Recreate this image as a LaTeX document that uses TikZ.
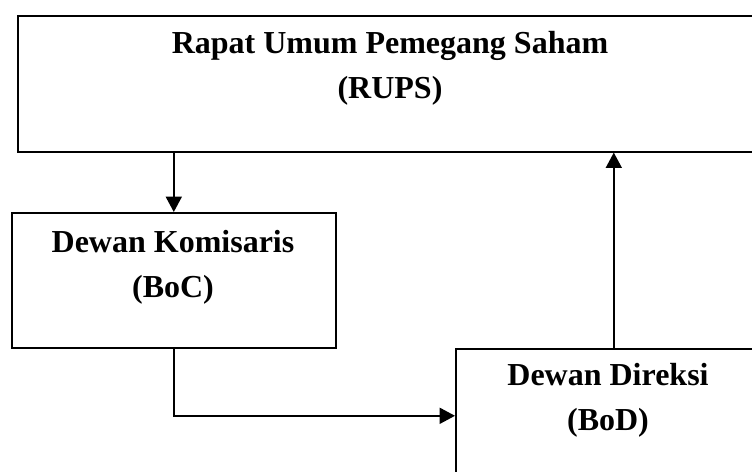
\documentclass[tikz,border=0pt]{standalone}
\usepackage{fontspec}
\setmainfont{Liberation Serif}
\usetikzlibrary{arrows.meta, positioning}

\begin{document}
\begin{tikzpicture}[
    x=0.75pt, y=-0.75pt,
    box style/.style={
        draw,
        line width=1.2pt,
        rectangle,
        anchor=north west,
        inner sep=0pt
    },
    text style/.style={
        align=center,
        anchor=base,
        inner sep=0pt,
        font=\fontsize{24}{33.75}\selectfont\bfseries
    },
    arrow style/.style={
        line width=1.2pt,
        -{Triangle[length=11.5pt, width=12pt]}
    }
]

% Frame
\useasboundingbox (0,0) rectangle (752,471);
\clip (0,0) rectangle (752,471);

% Boxes
\node[box style, minimum width=559.5pt, minimum height=102pt] (rups) at (17,15) {};
\node[box style, minimum width=243pt, minimum height=101.25pt] (boc) at (11,212) {};
\node[box style, minimum width=237pt, minimum height=100.5pt] (bod) at (455,348) {};

% Titles (anchored on the baseline of the last line)
\node[text style] (rups text) at (390,98) {Rapat Umum Pemegang Saham\\(RUPS)};
\node[text style] (boc text) at (173,297) {Dewan Komisaris\\(BoC)};
\node[text style] (bod text) at (608,430) {Dewan Direksi\\(BoD)};

% Arrows
\draw[arrow style] (rups.south -| boc.north) -- (boc.north);
\draw[arrow style] (boc.south) |- (bod.west);
\draw[arrow style] (bod.north) -- (bod.north |- rups.south);

\end{tikzpicture}
\end{document}
